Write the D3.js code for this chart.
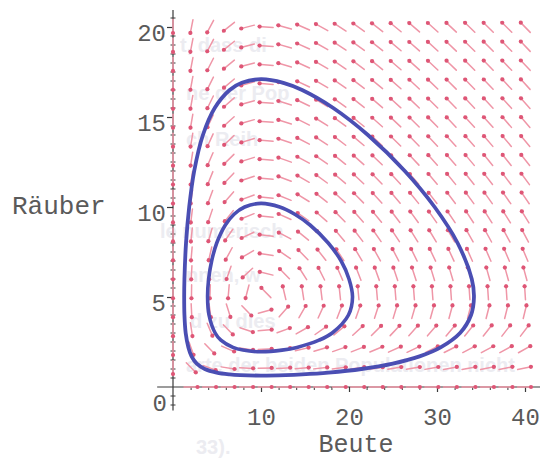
<!DOCTYPE html>
<html><head><meta charset="utf-8">
<script src="https://cdn.jsdelivr.net/npm/d3@7"></script>
<style>html,body{margin:0;padding:0;background:#fff}svg{display:block}</style>
</head><body>
<svg id="chart" width="540" height="460"></svg>
<script>
// ---- data ----
const xTicks = [10, 20, 30, 40];
const yTicks = [5, 10, 15, 20];
const xMinor = [2,4,6,8,12,14,16,18,22,24,26,28,32,34,36,38,42];
const xLabel = "Beute";
const yLabel = "Räuber";
// Lotka-Volterra model behind the direction field: x' = x(a - b y), y' = y(-c + d x)
const modelA = 1, modelB = 0.2, modelC = 1, modelD = 0.1;
const fieldXRange = [0, 40];
const fieldYRange = [0, 20];
const fieldCount = 20;
// the two closed orbits [Beute, Räuber]
const innerOrbit = [[10,1.96],[12.39,2.05],[14.08,2.2],[16.59,2.6],[18.09,3],[19.94,4],[20.4,5],[20.0,6],[19.11,7],[17.64,8],[15.57,9],[13.84,9.6],[12.13,10.0],[10,10.2],[8.14,10.0],[6.94,9.6],[5.95,9],[4.97,8],[4.39,7],[4.05,6],[3.93,5],[4.09,4],[4.79,3],[5.44,2.6],[6.81,2.2],[7.95,2.05]];
const outerOrbit = [[10,0.635],[12.79,0.66],[14.67,0.7],[17.66,0.8],[21.43,1],[24.98,1.3],[28.02,1.7],[30.41,2.2],[32.62,3],[33.87,4],[34.2,5],[33.95,6],[32.34,8],[29.73,10],[26.34,12],[22.15,14],[18.21,15.5],[14.67,16.5],[12.54,16.9],[10,17.1],[7.82,16.9],[6.44,16.5],[4.74,15.5],[3.40,14],[2.41,12],[1.84,10],[1.48,8],[1.30,6],[1.27,5],[1.30,4],[1.44,3],[1.75,2.2],[2.11,1.7],[2.70,1.3],[3.61,1],[4.96,0.8],[6.44,0.7],[7.65,0.66]];
// faint show-through text of the scanned page
const bgLines = [
  {t:"t, dass di", x:180, y:52},
  {t:"ne der Pop", x:186, y:100},
  {t:"ch  Reih", x:186, y:146},
  {t:"le numerisch", x:160, y:238},
  {t:"nnen, w", x:186, y:282},
  {t:"d zu dies", x:190, y:328},
  {t:"arte der beiden Populationen nicht", x:186, y:372},
  {t:"33).", x:196, y:454}
];

// ---- chart ----
const svg = d3.select("#chart");
const x = d3.scaleLinear().domain([0, 40]).range([173, 525]);
const y = d3.scaleLinear().domain([0, 20]).range([387, 27]);

// background show-through text
svg.append("g").selectAll("text").data(bgLines).join("text")
  .attr("x", d => d.x).attr("y", d => d.y)
  .attr("font-family", "Liberation Sans, Arial, sans-serif")
  .attr("font-size", 20).attr("font-weight", "bold")
  .attr("fill", "#ececf1").text(d => d.t);

// axes
const axisColor = "#3a3a3a";
svg.append("line").attr("x1", x(-1.8)).attr("x2", 540).attr("y1", y(0)).attr("y2", y(0))
  .attr("stroke", axisColor).attr("stroke-width", 1.2);
svg.append("line").attr("x1", x(0)).attr("x2", x(0)).attr("y1", y(-1.3)).attr("y2", y(20.95))
  .attr("stroke", axisColor).attr("stroke-width", 1.2);

// x major ticks and labels
const xAxis = d3.axisBottom(x).tickValues(xTicks).tickSize(5).tickFormat(d3.format("d"));
const gxa = svg.append("g").attr("transform", `translate(0,${y(0)})`).call(xAxis);
gxa.select(".domain").remove();
gxa.selectAll("line").attr("stroke", axisColor).attr("stroke-width", 1.2);
gxa.selectAll("text").attr("y", 38).attr("dy", 0)
  .attr("font-family", "Liberation Mono, monospace").attr("font-size", 24).attr("fill", "#5a5a5a");
// x minor ticks
const xAxisMinor = d3.axisBottom(x).tickValues(xMinor).tickSize(3).tickFormat("");
const gxm = svg.append("g").attr("transform", `translate(0,${y(0)})`).call(xAxisMinor);
gxm.select(".domain").remove();
gxm.selectAll("line").attr("stroke", axisColor).attr("stroke-width", 1);

// y major ticks and labels
const yAxis = d3.axisLeft(y).tickValues(yTicks).tickSize(6).tickFormat(d3.format("d"));
const gya = svg.append("g").attr("transform", `translate(${x(0)},0)`).call(yAxis);
gya.select(".domain").remove();
gya.selectAll("line").attr("stroke", axisColor).attr("stroke-width", 1.2);
gya.selectAll("text").attr("x", -7).attr("dy", 13)
  .attr("font-family", "Liberation Mono, monospace").attr("font-size", 24).attr("fill", "#5a5a5a");
// zero label
svg.append("text").attr("x", x(0) - 6).attr("y", y(0) + 24).attr("text-anchor", "end")
  .attr("font-family", "Liberation Mono, monospace").attr("font-size", 24).attr("fill", "#5a5a5a").text("0");
// y minor ticks (every 0.5)
const yMinor = d3.range(-2, 42).map(i => i * 0.5).filter(v => v % 5 !== 0 && v <= 20.5);
svg.append("g").selectAll("line").data(yMinor).join("line")
  .attr("x1", x(0) - 2.5).attr("x2", x(0) + 2.5).attr("y1", d => y(d)).attr("y2", d => y(d))
  .attr("stroke", axisColor).attr("stroke-width", 1);

// direction field
const fx = d3.scaleLinear().domain([0, fieldCount - 1]).range(fieldXRange);
const fy = d3.scaleLinear().domain([0, fieldCount - 1]).range(fieldYRange);
const arrows = [];
for (let i = 0; i < fieldCount; i++) for (let j = 0; j < fieldCount; j++) {
  const px = fx(i), py = fy(j);
  const vx = px * (modelA - modelB * py), vy = py * (-modelC + modelD * px);
  const sx = x(px + vx) - x(px), sy = y(py + vy) - y(py);
  const len = Math.hypot(sx, sy);
  if (len < 1e-9) continue;
  arrows.push({cx: x(px), cy: y(py), ux: sx / len, uy: sy / len});
}
const L = 7.5;
const gf = svg.append("g");
gf.selectAll("line").data(arrows).join("line")
  .attr("x1", d => d.cx - d.ux * L).attr("y1", d => d.cy - d.uy * L)
  .attr("x2", d => d.cx + d.ux * L).attr("y2", d => d.cy + d.uy * L)
  .attr("stroke", "#ef96a7").attr("stroke-width", 1.5).attr("stroke-linecap", "round");
gf.selectAll("circle").data(arrows).join("circle")
  .attr("cx", d => d.cx + d.ux * (L - 1.5)).attr("cy", d => d.cy + d.uy * (L - 1.5))
  .attr("r", 2.1).attr("fill", "#de5676");

// orbits
const line = d3.line().x(d => x(d[0])).y(d => y(d[1])).curve(d3.curveCatmullRomClosed.alpha(0.5));
svg.append("path").datum(outerOrbit).attr("d", line).attr("fill", "none")
  .attr("stroke", "#4a4eb3").attr("stroke-width", 3.8).attr("stroke-linejoin", "round");
svg.append("path").datum(innerOrbit).attr("d", line).attr("fill", "none")
  .attr("stroke", "#4a4eb3").attr("stroke-width", 3.6).attr("stroke-linejoin", "round");

// axis titles
svg.append("text").attr("x", x(20.8)).attr("y", 452).attr("text-anchor", "middle")
  .attr("font-family", "Liberation Mono, monospace").attr("font-size", 25).attr("fill", "#5a5a5a").text(xLabel);
svg.append("text").attr("x", 12).attr("y", 214).attr("text-anchor", "start")
  .attr("font-family", "Liberation Mono, monospace").attr("font-size", 26).attr("fill", "#5a5a5a").text(yLabel);
</script>
</body></html>
